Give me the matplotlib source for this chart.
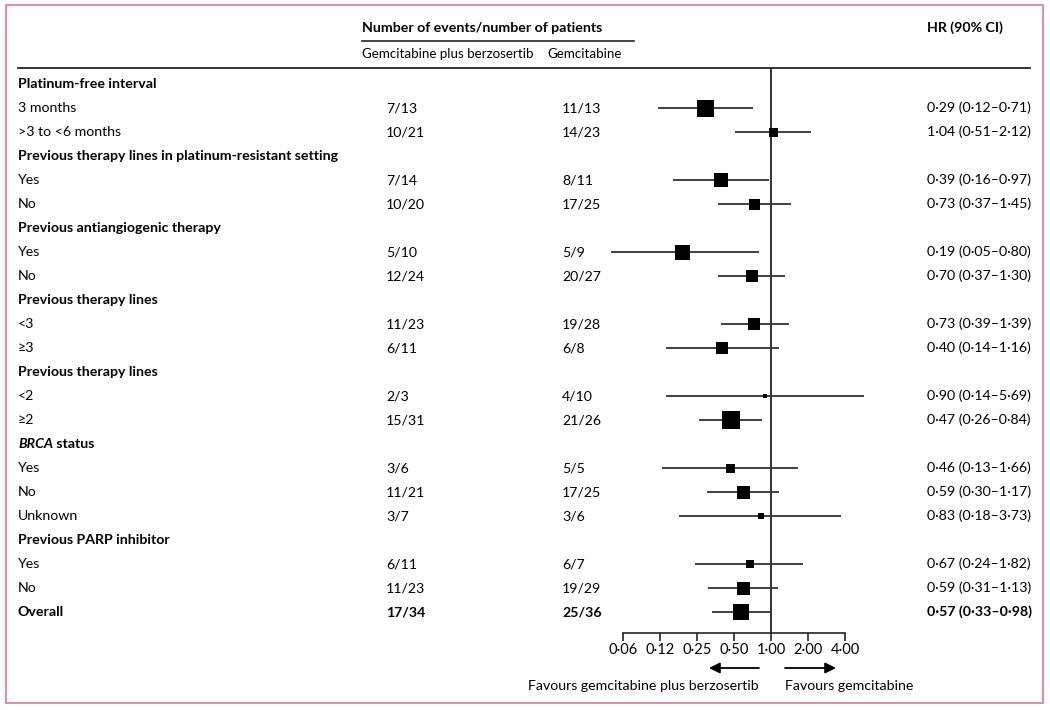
import numpy as np
import matplotlib
matplotlib.use("Agg")
from matplotlib import pyplot as plt
from matplotlib import transforms
from matplotlib.patches import Rectangle
from matplotlib.lines import Line2D

plt.rcParams["font.family"] = ["Lato", "DejaVu Sans"]
plt.rcParams["font.size"] = 10.2

W, H = 1050, 710

row_labels = [
    "Platinum-free interval", "3 months", ">3 to <6 months",
    "Previous therapy lines in platinum-resistant setting", "Yes", "No",
    "Previous antiangiogenic therapy", "Yes", "No",
    "Previous therapy lines", "<3", "≥3",
    "Previous therapy lines", "<2", "≥2",
    "BRCA status", "Yes", "No", "Unknown",
    "Previous PARP inhibitor", "Yes", "No",
    "Overall",
]
header_rows = [0, 3, 6, 9, 12, 15, 19]

combo_events = ["7/13", "10/21", "7/14", "10/20", "5/10", "12/24", "11/23", "6/11",
                "2/3", "15/31", "3/6", "11/21", "3/7", "6/11", "11/23", "17/34"]
gem_events = ["11/13", "14/23", "8/11", "17/25", "5/9", "20/27", "19/28", "6/8",
              "4/10", "21/26", "5/5", "17/25", "3/6", "6/7", "19/29", "25/36"]
hr = [0.29, 1.04, 0.39, 0.73, 0.19, 0.70, 0.73, 0.40, 0.90, 0.47, 0.46, 0.59, 0.83, 0.67, 0.59, 0.57]
ci_lo = [0.12, 0.51, 0.16, 0.37, 0.05, 0.37, 0.39, 0.14, 0.14, 0.26, 0.13, 0.30, 0.18, 0.24, 0.31, 0.33]
ci_hi = [0.71, 2.12, 0.97, 1.45, 0.80, 1.30, 1.39, 1.16, 5.69, 0.84, 1.66, 1.17, 3.73, 1.82, 1.13, 0.98]
weights = [17, 9, 14, 11, 15, 12, 12, 12, 5, 18, 9, 13, 6, 8, 13, 16]

tick_values = [0.0625, 0.125, 0.25, 0.5, 1, 2, 4]
tick_labels = ["0·06", "0·12", "0·25", "0·50", "1·00", "2·00", "4·00"]

data_rows = [i for i in range(len(row_labels)) if i not in header_rows]


def fmt(v):
    return f"{v:.2f}".replace(".", "·")


fig = plt.figure(figsize=(W / 100, H / 100), dpi=100)

# forest axes: x in log2 scale, 37 px per doubling, 1.00 at x=771px
x0, x1 = 590, 880
y_top, y_bot = 68, 633
ax = fig.add_axes([x0 / W, (H - y_bot) / H, (x1 - x0) / W, (y_bot - y_top) / H])
ax.set_xscale("log", base=2)
ax.set_xlim(2 ** ((x0 - 771) / 37), 2 ** ((x1 - 771) / 37))
ax.set_ylim(22.875, -0.667)
ax.patch.set_visible(False)
for s in ["top", "left", "right"]:
    ax.spines[s].set_visible(False)
ax.spines["bottom"].set_bounds(tick_values[0], tick_values[-1])
ax.spines["bottom"].set_linewidth(1.2)
ax.spines["bottom"].set_color("#222222")
ax.set_yticks([])
ax.set_xticks(tick_values)
ax.set_xticklabels(tick_labels)
ax.minorticks_off()
ax.tick_params(axis="x", direction="out", length=6, width=1.2, color="#222222",
               pad=1, labelsize=10.5)
ax.axvline(1, color="#222222", lw=1.3, zorder=1)

ys = np.array(data_rows)
ax.hlines(ys, ci_lo, ci_hi, color="#333333", lw=1.3, zorder=2)
for y, h, w in zip(ys, hr, weights):
    ax.plot(h, y, marker="s", ms=w * 0.72, color="black", mec="black", mew=0, zorder=3)

tr = transforms.blended_transform_factory(fig.transFigure, ax.transData)

for i, lab in enumerate(row_labels):
    bold = i in header_rows or i == len(row_labels) - 1
    if lab == "BRCA status":
        t1 = ax.text(18 / W, i, "BRCA", transform=tr, va="center", ha="left",
                     fontweight="bold", fontstyle="italic")
        ax.annotate(" status", xy=(1, 0), xycoords=t1, va="bottom", ha="left",
                    fontweight="bold")
    else:
        ax.text(18 / W, i, lab, transform=tr, va="center", ha="left",
                fontweight="bold" if bold else "normal")

last = data_rows[-1]
for k, i in enumerate(data_rows):
    weight = "bold" if i == last else "normal"
    ax.text(386 / W, i, combo_events[k], transform=tr, va="center", ha="left", fontweight=weight)
    ax.text(562 / W, i, gem_events[k], transform=tr, va="center", ha="left", fontweight=weight)
    ax.text(927 / W, i, f"{fmt(hr[k])} ({fmt(ci_lo[k])}–{fmt(ci_hi[k])})", transform=tr,
            va="center", ha="left", fontweight=weight)

# column headers
fig.text(362 / W, 1 - 28 / H, "Number of events/number of patients", va="center", ha="left",
         fontweight="bold")
fig.text(927 / W, 1 - 28 / H, "HR (90% CI)", va="center", ha="left", fontweight="bold")
fig.text(362 / W, 1 - 54 / H, "Gemcitabine plus berzosertib", va="center", ha="left", fontsize=9.6)
fig.text(547 / W, 1 - 54 / H, "Gemcitabine", va="center", ha="left", fontsize=9.6)
fig.add_artist(Line2D([362 / W, 634 / W], [1 - 41 / H, 1 - 41 / H], color="#222222", lw=1.2))
fig.add_artist(Line2D([18 / W, 1030 / W], [1 - 68 / H, 1 - 68 / H], color="#222222", lw=1.3))

# favours arrows
row_arrow = (668 - y_top) / 24 - 0.667
row_fav = (686 - y_top) / 24 - 0.667
arrow = dict(arrowstyle="-|>", lw=1.3, color="black", mutation_scale=16, shrinkA=0, shrinkB=0)
ax.annotate("", xy=(2 ** ((709 - 771) / 37), row_arrow), xytext=(2 ** ((759 - 771) / 37), row_arrow),
            arrowprops=arrow, annotation_clip=False)
ax.annotate("", xy=(2 ** ((836 - 771) / 37), row_arrow), xytext=(2 ** ((785 - 771) / 37), row_arrow),
            arrowprops=arrow, annotation_clip=False)
ax.text(2 ** ((759 - 771) / 37), row_fav, "Favours gemcitabine plus berzosertib", va="center",
        ha="right", clip_on=False)
ax.text(2 ** ((785 - 771) / 37), row_fav, "Favours gemcitabine", va="center", ha="left", clip_on=False)

# pink frame
fig.add_artist(Rectangle((6 / W, (H - 703) / H), (1043 - 6) / W, (703 - 5) / H,
                         transform=fig.transFigure, fill=False, edgecolor="#e2809e", lw=1.3))

fig.savefig("out.png", dpi=100)
